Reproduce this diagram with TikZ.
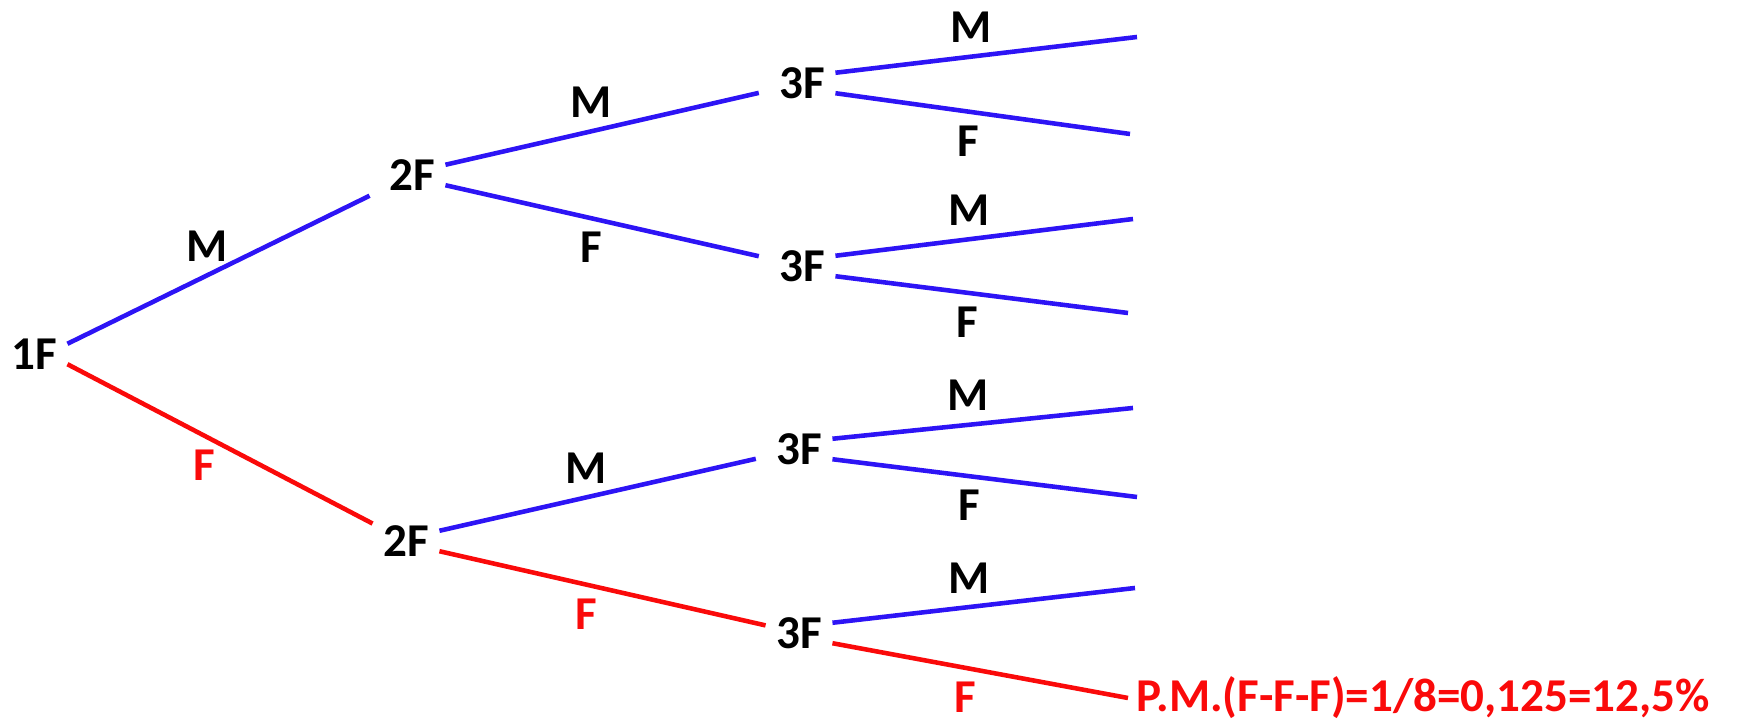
\documentclass[tikz,border=0pt]{standalone}
\usepackage{fontspec}
\setmainfont{Carlito}
\definecolor{branchblue}{RGB}{45,20,245}
\definecolor{branchred}{RGB}{250,10,10}

\begin{document}
\begin{tikzpicture}[
    font=\fontsize{13.4}{16}\selectfont\bfseries,
    gen/.style={inner xsep=0.1cm, inner ysep=0.06cm},
    bline/.style={draw=branchblue, line width=1.3pt},
    rline/.style={draw=branchred, line width=1.3pt},
    into/.style={shorten >=0.1cm},
    lab/.style={pos=0.45}
]
    \useasboundingbox (0,0) rectangle (17.6,7.19);

    % Root
    \node[gen] (g1) at (0.34,3.65) {1F};

    % Second generation
    \node[gen] (g2a) at (4.12,5.44) {2F};
    \node[gen] (g2b) at (4.06,1.78) {2F};

    % Third generation
    \node[gen] (g3a) at (8.02,6.36) {3F};
    \node[gen] (g3b) at (8.02,4.53) {3F};
    \node[gen] (g3c) at (7.99,2.70) {3F};
    \node[gen] (g3d) at (7.99,0.86) {3F};

    % Open ends
    \coordinate (l1) at (11.37,6.82);
    \coordinate (l2) at (11.30,5.85);
    \coordinate (l3) at (11.33,5.00);
    \coordinate (l4) at (11.28,4.06);
    \coordinate (l5) at (11.33,3.11);
    \coordinate (l6) at (11.37,2.22);
    \coordinate (l7) at (11.35,1.31);
    \node[anchor=west, inner xsep=0.08cm, text=branchred] (res) at (11.28,0.21) {P.M.(F-F-F)=1/8=0,125=12,5\%};

    % Branches
    \draw[bline, into] (g1.17) -- node[lab, above] {M} (g2a);
    \draw[rline] (g1.-17) -- node[lab, below, text=branchred] {F} (g2b);

    \draw[bline, into] (g2a.17) -- node[lab, above] {M} (g3a);
    \draw[bline, into] (g2a.-17) -- node[lab, below] {F} (g3b);
    \draw[bline, into] (g2b.17) -- node[lab, above] {M} (g3c);
    \draw[rline] (g2b.-17) -- node[lab, below, text=branchred] {F} (g3d);

    \draw[bline] (g3a.17) -- node[lab, above] {M} (l1);
    \draw[bline] (g3a.-17) -- node[lab, below] {F} (l2);
    \draw[bline] (g3b.17) -- node[lab, above] {M} (l3);
    \draw[bline] (g3b.-17) -- node[lab, below] {F} (l4);
    \draw[bline] (g3c.17) -- node[lab, above] {M} (l5);
    \draw[bline] (g3c.-17) -- node[lab, below] {F} (l6);
    \draw[bline] (g3d.17) -- node[lab, above] {M} (l7);
    \draw[rline] (g3d.-17) -- node[lab, below, text=branchred] {F} (res.west);

\end{tikzpicture}
\end{document}
